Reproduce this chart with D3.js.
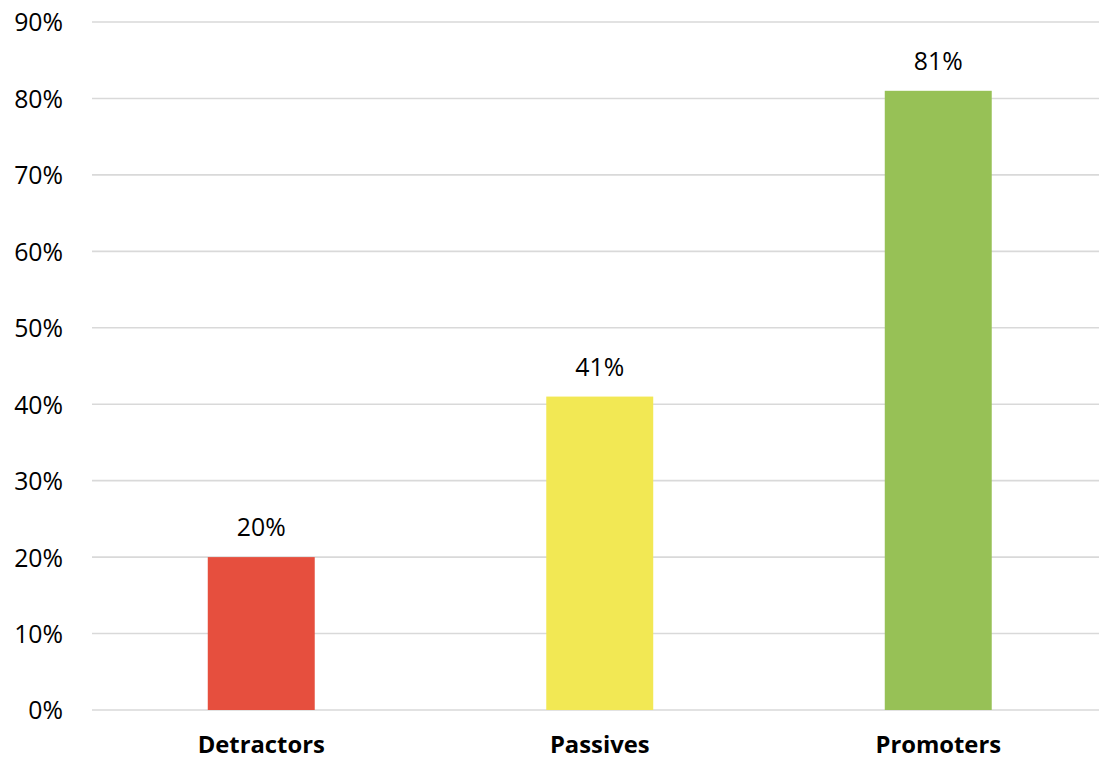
<!DOCTYPE html>
<html>
<head>
<meta charset="utf-8">
<script src="https://cdn.jsdelivr.net/npm/d3@7"></script>
<style>
  html, body { margin: 0; padding: 0; background: #fff; }
  svg { display: block; }
  text { font-family: "Open Sans", sans-serif; fill: #000; }
</style>
</head>
<body>
<svg id="chart" width="1099" height="758"></svg>
<script>
const categories = ["Detractors", "Passives", "Promoters"];
const values = [0.20, 0.41, 0.81];
const colors = ["#E64F3E", "#F2E854", "#97C156"];
const yTicks = [0, 0.1, 0.2, 0.3, 0.4, 0.5, 0.6, 0.7, 0.8, 0.9];

const svg = d3.select("#chart");
const plotLeft = 92, plotRight = 1107.5, plotTop = 22, plotBottom = 710;

const x = d3.scaleBand().domain(categories).range([plotLeft, plotRight])
  .paddingInner(0.684).paddingOuter(0.342);
const y = d3.scaleLinear().domain([0, 0.9]).range([plotBottom, plotTop]);
const fmt = d3.format(".0%");

// gridlines
svg.append("g").selectAll("line").data(yTicks).join("line")
  .attr("x1", plotLeft).attr("x2", 1099)
  .attr("y1", d => y(d)).attr("y2", d => y(d))
  .attr("stroke", "#D9D9D9").attr("stroke-width", 1.6);

// y axis labels
const yAxis = d3.axisLeft(y).tickValues(yTicks).tickFormat(fmt).tickSize(0).tickPadding(0);
const gy = svg.append("g").attr("transform", "translate(63,0)").call(yAxis);
gy.select(".domain").remove();
gy.selectAll("text").attr("font-family", "Open Sans, sans-serif")
  .attr("font-size", 24.8).attr("fill", "#000").attr("dy", "0.36em");

// bars
svg.append("g").selectAll("rect").data(categories).join("rect")
  .attr("x", d => x(d)).attr("width", x.bandwidth())
  .attr("y", (d, i) => y(values[i]))
  .attr("height", (d, i) => y(0) - y(values[i]))
  .attr("fill", (d, i) => colors[i]);

// data labels
svg.append("g").selectAll("text").data(categories).join("text")
  .attr("x", d => x(d) + x.bandwidth() / 2)
  .attr("y", (d, i) => y(values[i]) - 21)
  .attr("text-anchor", "middle")
  .attr("font-size", 24.8)
  .text((d, i) => fmt(values[i]));

// x axis labels
const xAxis = d3.axisBottom(x).tickSize(0).tickPadding(0);
const gx = svg.append("g").attr("transform", "translate(0,752.5)").call(xAxis);
gx.select(".domain").remove();
gx.selectAll("text").attr("dy", 0).attr("font-family", "Open Sans, sans-serif")
  .attr("font-size", 23.8).attr("font-weight", "bold").attr("fill", "#000");
</script>
</body>
</html>
